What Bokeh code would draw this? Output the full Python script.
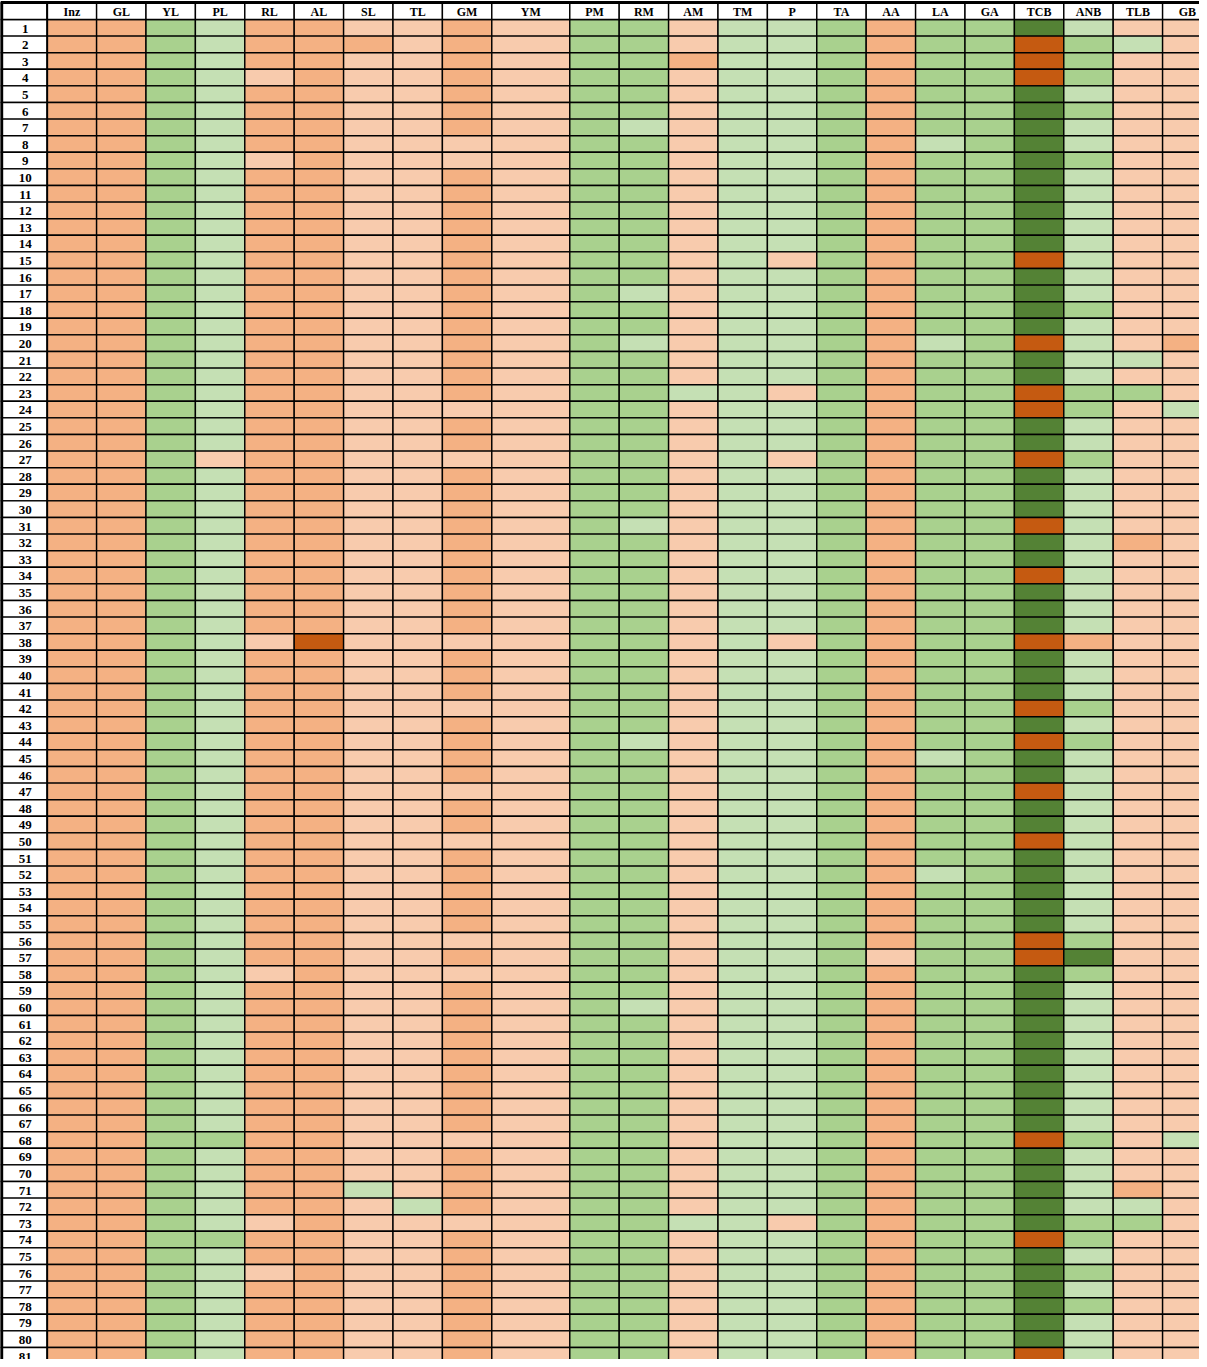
from bokeh.plotting import figure
from bokeh.models import Range1d, ColumnDataSource
from bokeh.embed import file_html
from bokeh.resources import INLINE
from bokeh.core.properties import value

# ---------------- DATA ----------------
# rating level per cell: 1 = dark orange, 2 = orange, 3 = light orange,
# 4 = light green, 5 = green, 6 = dark green  (rows 1..81, grouped by tens)
columns = ["Inz", "GL", "YL", "PL", "RL", "AL", "SL", "TL", "GM", "YM", "PM", "RM",
           "AM", "TM", "P", "TA", "AA", "LA", "GA", "TCB", "ANB", "TLB", "GB"]
row_labels = [str(i) for i in range(1, 82)]

Inz = "2222222222 2222222222 2222222222 2222222222 2222222222 2222222222 2222222222 2222222222 2"
GL  = "2222222222 2222222222 2222222222 2222222222 2222222222 2222222222 2222222222 2222222222 2"
YL  = "5555555555 5555555555 5555555555 5555555555 5555555555 5555555555 5555555555 5555555555 5"
PL  = "4444444444 4444444444 4444443444 4444444444 4444444444 4444444444 4444444544 4445444444 4"
RL  = "2223222232 2222222222 2222222222 2222222322 2222222222 2222222322 2222222222 2232232222 2"
AL  = "2222222222 2222222222 2222222222 2222222122 2222222222 2222222222 2222222222 2222222222 2"
SL  = "3233333333 3333333333 3333333333 3333333333 3333333333 3333333333 3333333333 4333333333 3"
TL  = "3333333333 3333333333 3333333333 3333333333 3333333333 3333333333 3333333333 3433333333 3"
GM  = "2222222332 2222222222 2223223222 2222222322 2322223223 2222232322 2222222322 2232222222 2"
YM  = "3333333333 3333333333 3333333333 3333333333 3333333333 3333333333 3333333333 3333333333 3"
PM  = "5555555555 5555555555 5555555555 5555555555 5555555555 5555555555 5555555555 5555555555 5"
RM  = "5555554555 5555554554 5555555555 4555555555 5554555555 5555555554 5555555555 5555555555 5"
AM  = "3323333333 3333333333 3343333333 3333333333 3333333333 3333333333 3333333333 3343333333 3"
TM  = "4444444444 4444444444 4444444444 4444444444 4444444444 4444444444 4444444444 4444444444 4"
P   = "4444444444 4444344444 4434443444 4444444344 4444444444 4444444444 4444444444 4434444444 4"
TA  = "5555555555 5555555555 5555555555 5555555555 5555555555 5555555555 5555555555 5555555555 5"
AA  = "2222222222 2222222222 2222222222 2222222222 2222222222 2222223222 2222222222 2222222222 2"
LA  = "5555555455 5555555554 5555555555 5555555555 5555455555 5455555555 5555555555 5555555555 5"
GA  = "5555555555 5555555555 5555555555 5555555555 5555555555 5555555555 5555555555 5555555555 5"
TCB = "6111666666 6666166661 6611661666 1661666166 6161661661 6666611666 6666666166 6661666666 1"
ANB = "4555454454 4444444544 4455445444 4444444244 4545444444 4444456544 4444444544 4455454544 4"
TLB = "3433333333 3333333333 4353333333 3233333333 3333333333 3333333333 3333333333 2453333333 3"
GB  = "3333333333 3333333332 3334333333 3333333333 3333333333 3333333333 3333333433 3333333333 3"

column_codes = [Inz, GL, YL, PL, RL, AL, SL, TL, GM, YM, PM, RM,
                AM, TM, P, TA, AA, LA, GA, TCB, ANB, TLB, GB]

# ---------------- STYLE / LAYOUT ----------------
palette = {1: "#C55A11", 2: "#F4B183", 3: "#F8CBAD", 4: "#C5E0B4", 5: "#A9D18E", 6: "#548235"}
TABLE_X0 = 8.0
LABEL_W = 46.7
COL_W = 49.4
WIDE_W = 78.0
TABLE_Y0 = 10.0
HEADER_H = 17.0
ROW_H = 16.6
FONT = value("Liberation Serif")

widths = [WIDE_W if c == "YM" else COL_W for c in columns]
lefts = []
x = TABLE_X0 + LABEL_W
for w in widths:
    lefts.append(x)
    x += w
rights = [l + w for l, w in zip(lefts, widths)]

W, H = 1199, 1359
p = figure(width=W, height=H, output_backend="svg", toolbar_location=None,
           x_range=Range1d(8, 8 + W), y_range=Range1d(8 + H, 8),
           x_axis_location=None, y_axis_location=None, min_border=0,
           background_fill_color="white", border_fill_color="white")
p.outline_line_color = None
p.grid.visible = False

# data cells
cl, cr, ct, cb, cc = [], [], [], [], []
for ci, codes in enumerate(column_codes):
    vals = [int(ch) for ch in codes.replace(" ", "")]
    for ri, v in enumerate(vals):
        top = TABLE_Y0 + HEADER_H + ri * ROW_H
        cl.append(lefts[ci]); cr.append(rights[ci])
        ct.append(top); cb.append(top + ROW_H)
        cc.append(palette[v])
p.quad(left="l", right="r", top="t", bottom="b", fill_color="c",
       line_color="black", line_width=1.4,
       source=ColumnDataSource(dict(l=cl, r=cr, t=ct, b=cb, c=cc)))

# row label cells
n = len(row_labels)
rt = [TABLE_Y0 + HEADER_H + i * ROW_H for i in range(n)]
p.quad(left=[TABLE_X0] * n, right=[TABLE_X0 + LABEL_W] * n, top=rt,
       bottom=[t + ROW_H for t in rt], fill_color="white", line_color="black", line_width=1.4)

# header cells
hl = [TABLE_X0] + lefts
hr = [TABLE_X0 + LABEL_W] + rights
p.quad(left=hl, right=hr, top=[TABLE_Y0] * len(hl), bottom=[TABLE_Y0 + HEADER_H] * len(hl),
       fill_color="white", line_color="black", line_width=1.4)

# outer thick border (top, left) and label column separator
p.segment(x0=[TABLE_X0, TABLE_X0 + 1.3, TABLE_X0 + LABEL_W],
          y0=[TABLE_Y0, TABLE_Y0, TABLE_Y0],
          x1=[8 + W, TABLE_X0 + 1.3, TABLE_X0 + LABEL_W],
          y1=[TABLE_Y0, 8 + H, 8 + H],
          line_color="black", line_width=[2.8, 2.8, 1.9])

# header text
p.text(x=[(l + r) / 2 for l, r in zip(lefts, rights)], y=[TABLE_Y0 + HEADER_H / 2 + 0.8] * len(columns),
       text=columns, text_font=FONT, text_font_style="bold", text_font_size="12px",
       text_align="center", text_baseline="middle", text_color="black")

# row label text
p.text(x=[TABLE_X0 + LABEL_W / 2 + 1.5] * n, y=[t + ROW_H / 2 + 0.8 for t in rt],
       text=row_labels, text_font=FONT, text_font_style="bold", text_font_size="13px",
       text_align="center", text_baseline="middle", text_color="black")

open("out.html", "w").write(file_html(p, INLINE))
